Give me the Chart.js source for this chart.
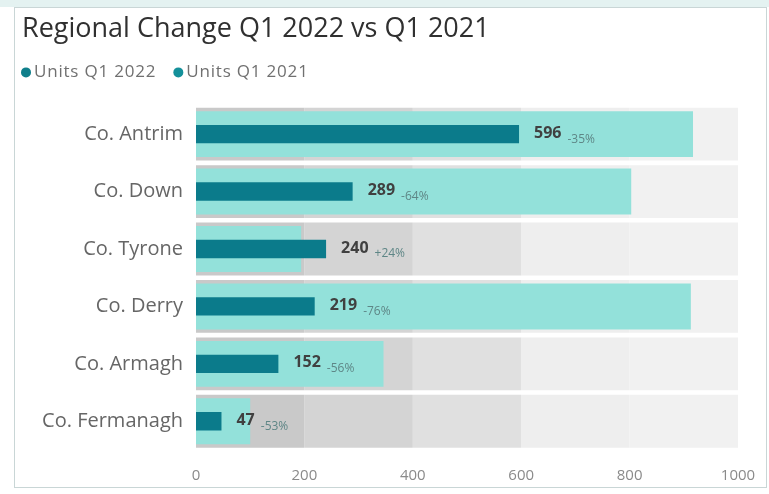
<!DOCTYPE html>
<html>
<head>
<meta charset="utf-8">
<script src="https://cdn.jsdelivr.net/npm/chart.js@4/dist/chart.umd.min.js"></script>
<style>
  html, body { margin: 0; padding: 0; background: #fff; }
  .strip { position: absolute; left: 0; top: 0; width: 769px; height: 7px; background: #e4f2f1; }
  .card { position: absolute; left: 14px; top: 7px; width: 753px; height: 481px;
          border: 1px solid #c9d6d6; box-sizing: border-box; background: #fff; }
  canvas { display: block; }
</style>
</head>
<body>
<div class="strip"></div>
<div class="card"><canvas id="bullet_chart" width="751" height="479"></canvas></div>
<script>
// data
const counties = ["Co. Antrim", "Co. Down", "Co. Tyrone", "Co. Derry", "Co. Armagh", "Co. Fermanagh"];
const units_2022 = [596, 289, 240, 219, 152, 47];
const units_2021 = [917, 803, 194, 913, 346, 100];
const change_text = ["-35%", "-64%", "+24%", "-76%", "-56%", "-53%"];
const band_edges = [0, 200, 400, 600, 800, 1000];
const x_ticks = [0, 200, 400, 600, 800, 1000];

// colours
const dark_teal = "#0b7b8b";
const light_teal = "#93e1da";
const band_colors = ["#c9c9c9", "#d4d4d4", "#e0e0e0", "#eeeeee", "#f1f1f1"];
const legend_colors = ["#0f7f8b", "#14909a"];

const ctx = document.getElementById("bullet_chart").getContext("2d");

// background bands, one floating bar per range
let band_sets = [];
for (let b = 0; b < band_edges.length - 1; b++) {
  band_sets.push({
    label: "band" + b,
    data: counties.map(() => [band_edges[b], band_edges[b + 1]]),
    backgroundColor: band_colors[b],
    barPercentage: 0.92,
    categoryPercentage: 1,
    grouped: false,
    order: 2,
  });
}

// value labels after the dark bars
const valueLabels = {
  id: "valueLabels",
  afterDatasetsDraw(chart) {
    const c = chart.ctx;
    const meta = chart.getDatasetMeta(0);
    c.save();
    c.textBaseline = "middle";
    meta.data.forEach((bar, i) => {
      let x = bar.x + 15;
      c.font = "bold 16px 'Open Sans'";
      c.fillStyle = "#404040";
      c.fillText(units_2022[i], x, bar.y - 1);
      const w = c.measureText(String(units_2022[i])).width;
      c.font = "12px 'Open Sans'";
      c.fillStyle = "#5e8686";
      c.fillText(change_text[i], x + w + 6, bar.y + 5);
    });
    c.restore();
  },
};

// legend with round dots
const dotLegend = {
  id: "dotLegend",
  afterDraw(chart) {
    const c = chart.ctx;
    const y = chart.chartArea.top - 33;
    let x = 6;
    c.save();
    c.font = "17px 'Open Sans'";
    c.letterSpacing = "0.8px";
    c.textBaseline = "middle";
    [0, 1].forEach((d) => {
      c.fillStyle = legend_colors[d];
      c.beginPath();
      c.arc(x + 5, y, 5, 0, Math.PI * 2);
      c.fill();
      c.fillStyle = "#707070";
      const txt = chart.data.datasets[d].label;
      c.fillText(txt, x + 13, y);
      x += 13 + c.measureText(txt).width + 17;
    });
    c.restore();
  },
};

new Chart(ctx, {
  type: "bar",
  data: {
    labels: counties,
    datasets: [
      {
        label: "Units Q1 2022",
        data: units_2022,
        backgroundColor: dark_teal,
        barPercentage: 0.32,
        categoryPercentage: 1,
        grouped: false,
        order: 0,
      },
      {
        label: "Units Q1 2021",
        data: units_2021,
        backgroundColor: light_teal,
        barPercentage: 0.8,
        categoryPercentage: 1,
        grouped: false,
        order: 1,
      },
      ...band_sets,
    ],
  },
  options: {
    indexAxis: "y",
    responsive: false,
    animation: false,
    layout: { padding: { top: 5, left: 7, right: 28, bottom: 5 } },
    plugins: {
      legend: { display: false },
      tooltip: { enabled: false },
      title: {
        display: true,
        text: "Regional Change Q1 2022 vs Q1 2021",
        align: "start",
        color: "#303030",
        font: { family: "'Open Sans'", size: 27, weight: "normal" },
        padding: { top: 0, bottom: 60 },
      },
    },
    scales: {
      x: {
        min: 0,
        max: 1000,
        afterBuildTicks(scale) {
          scale.ticks = x_ticks.map((v) => ({ value: v }));
        },
        afterFit(scale) {
          scale.height = 32;
          scale.paddingLeft = 0;
          scale.paddingRight = 0;
        },
        grid: { display: false, drawTicks: false },
        border: { display: false },
        ticks: {
          color: "#8a8a8a",
          padding: 17,
          font: { family: "'Open Sans'", size: 15 },
          callback: (v) => String(v),
        },
      },
      y: {
        afterFit(scale) {
          scale.width = 174;
        },
        grid: { display: false, drawTicks: false },
        border: { display: false },
        ticks: { color: "#666", padding: 13, font: { family: "'Open Sans'", size: 20 } },
      },
    },
  },
  plugins: [valueLabels, dotLegend],
});
</script>
</body>
</html>
